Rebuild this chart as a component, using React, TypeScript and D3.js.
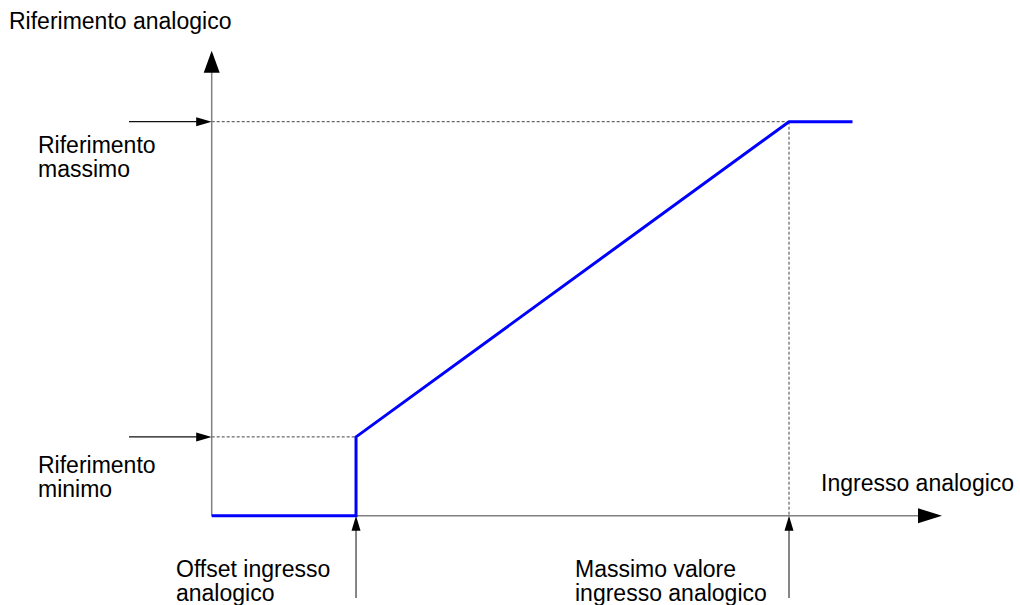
import React from 'react';
import * as d3 from 'd3';

// analog input (% of max) and resulting reference (% of max)
const inputValues = [0, 25, 25, 100, 111];
const referenceValues = [0, 0, 20, 100, 100];

const offsetInput = 25;
const maxInput = 100;
const minReference = 20;
const maxReference = 100;
const xAxisEnd = 126.5;
const yAxisEnd = 118;

const yAxisTitle = 'Riferimento analogico';
const xAxisTitle = 'Ingresso analogico';
const maxRefLabel = ['Riferimento', 'massimo'];
const minRefLabel = ['Riferimento', 'minimo'];
const offsetLabel = ['Offset ingresso', 'analogico'];
const maxInputLabel = ['Massimo valore', 'ingresso analogico'];

const W = 1020;
const H = 605;
const FONT = 'Liberation Sans, Arial, sans-serif';

const App: React.FC = () => {
  const x = d3.scaleLinear().domain([0, 100]).range([211.7, 789]);
  const y = d3.scaleLinear().domain([0, 100]).range([515.7, 121.7]);

  const pts: [number, number][] = inputValues.map((v, i) => [v, referenceValues[i]]);
  const line = d3.line<[number, number]>()
    .x(d => x(d[0]))
    .y(d => y(d[1]));

  const x0 = x(0);
  const y0 = y(0);
  const xTip = x(xAxisEnd);
  const yTip = y(yAxisEnd);

  const leftArrow = (val: number) => {
    const yy = y(val);
    return (
      <g key={'l' + val}>
        <line x1={129} x2={198} y1={yy} y2={yy} stroke="#111" strokeWidth={1.3} />
        <polygon points={`${x0},${yy} ${x0 - 15.5},${yy - 4.5} ${x0 - 15.5},${yy + 4.5}`} fill="#000" />
      </g>
    );
  };

  const upArrow = (val: number) => {
    const xx = x(val);
    return (
      <g key={'u' + val}>
        <line x1={xx} x2={xx} y1={598} y2={529} stroke="#444" strokeWidth={1.3} />
        <polygon points={`${xx},${y0} ${xx - 4.5},${y0 + 15} ${xx + 4.5},${y0 + 15}`} fill="#000" />
      </g>
    );
  };

  const label = (lines: string[], lx: number, ly: number, key: string) => (
    <text key={key} x={lx} y={ly} fontFamily={FONT} fontSize={23} fill="#000">
      {lines.map((t, i) => (
        <tspan key={i} x={lx} dy={i === 0 ? 0 : 23.5}>{t}</tspan>
      ))}
    </text>
  );

  return (
    <svg width={W} height={H} style={{ position: 'absolute', left: 0, top: 0 }}>
      <rect width={W} height={H} fill="#fff" />

      {/* dotted guides */}
      <g stroke="#444" strokeWidth={1} strokeDasharray="3,2" fill="none">
        <line x1={x0} x2={x(maxInput)} y1={y(maxReference)} y2={y(maxReference)} />
        <line x1={x0} x2={x(offsetInput)} y1={y(minReference)} y2={y(minReference)} />
        <line x1={x(maxInput)} x2={x(maxInput)} y1={y(maxReference)} y2={y0} />
      </g>

      {/* axes */}
      <line x1={x0} x2={x0} y1={y0} y2={yTip + 20} stroke="#808080" strokeWidth={1.5} />
      <polygon points={`${x0},${yTip} ${x0 - 8},${yTip + 22} ${x0 + 8},${yTip + 22}`} fill="#000" />
      <line x1={x0} x2={xTip - 22} y1={y0} y2={y0} stroke="#808080" strokeWidth={1.5} />
      <polygon points={`${xTip},${y0} ${xTip - 24},${y0 - 7.5} ${xTip - 24},${y0 + 7.5}`} fill="#000" />

      {/* characteristic */}
      <path d={line(pts) ?? ''} fill="none" stroke="#0000ff" strokeWidth={3} strokeLinejoin="miter" />

      {leftArrow(maxReference)}
      {leftArrow(minReference)}
      {upArrow(offsetInput)}
      {upArrow(maxInput)}

      {label([yAxisTitle], 9, 29, 'yt')}
      {label([xAxisTitle], 821, 491, 'xt')}
      {label(maxRefLabel, 38, 153, 'mx')}
      {label(minRefLabel, 38, 473, 'mn')}
      {label(offsetLabel, 176, 577, 'of')}
      {label(maxInputLabel, 575, 577, 'mi')}
    </svg>
  );
};

export default App;
